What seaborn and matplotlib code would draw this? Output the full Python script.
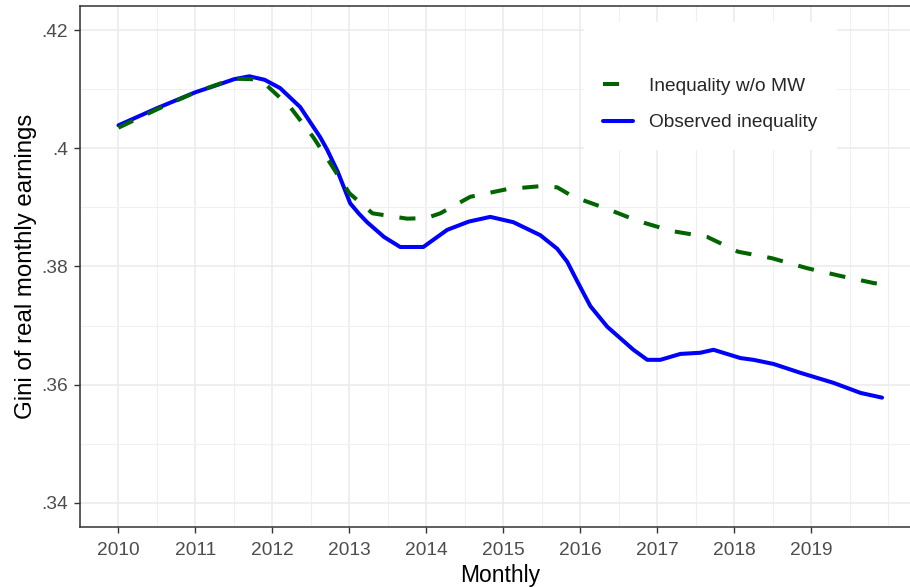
import pandas as pd
import numpy as np
import matplotlib
matplotlib.use("Agg")
import matplotlib.pyplot as plt
import seaborn as sns

sns.set_style("white")
plt.rcParams['font.family'] = ['Liberation Sans', 'DejaVu Sans']
plt.rcParams['axes.unicode_minus'] = False

# observed inequality (blue, solid)
obs_x = [2010.0, 2010.5, 2011.0, 2011.3, 2011.5, 2011.7, 2011.9, 2012.1, 2012.36, 2012.62,
         2012.71, 2012.85, 2013.01, 2013.12, 2013.23, 2013.45, 2013.66, 2013.96, 2014.27,
         2014.55, 2014.83, 2015.13, 2015.48, 2015.7, 2015.83, 2015.96, 2016.13, 2016.35,
         2016.69, 2016.87, 2017.04, 2017.3, 2017.56, 2017.73, 2018.08, 2018.25, 2018.51,
         2018.86, 2019.29, 2019.64, 2019.92]
obs_y = [.4039, .4068, .4095, .4108, .4117, .4122, .4116, .4102, .4070, .4019,
         .3998, .3960, .3907, .3890, .3875, .3850, .3833, .3833, .3862,
         .3876, .3884, .3875, .3853, .3830, .3808, .3775, .3733, .3698,
         .3659, .3642, .3642, .3652, .3654, .3659, .3645, .3642, .3635,
         .3620, .3603, .3586, .3578]

# counterfactual without minimum wage (green, dashed)
nomw_x = [2010.0, 2010.5, 2011.0, 2011.5, 2011.75, 2011.88, 2012.23, 2012.53, 2012.75, 2013.0,
          2013.3, 2013.75, 2014.0, 2014.18, 2014.57, 2015.05, 2015.48, 2015.7, 2015.91,
          2016.32, 2016.75, 2017.19, 2017.65, 2018.05, 2018.49, 2018.95, 2019.38, 2019.81,
          2019.92]
nomw_y = [.4035, .4066, .4095, .4118, .4117, .4112, .4070, .4019, .3975, .3924,
          .3890, .3881, .3882, .3890, .3918, .3931, .3936, .3934, .3918,
          .3899, .3877, .3860, .3850, .3825, .3814, .3797, .3784, .3772,
          .3770]

year_ticks = list(range(2010, 2020))
gini_ticks = [.34, .36, .38, .40, .42]
gini_labels = [".34", ".36", ".38", ".4", ".42"]

df_obs = pd.DataFrame({"month": obs_x, "gini": obs_y})
df_nomw = pd.DataFrame({"month": nomw_x, "gini": nomw_y})

fig = plt.figure(figsize=(9.1, 5.87), dpi=100)
W, H = 910, 587
ax = fig.add_axes([80 / W, (H - 527) / H, (920 - 80) / W, (527 - 6) / H])

sns.lineplot(data=df_obs, x="month", y="gini", ax=ax, color="#0000ff", lw=2.9,
             label="Observed inequality", sort=False, estimator=None)
sns.lineplot(data=df_nomw, x="month", y="gini", ax=ax, color="#006400", lw=2.9,
             linestyle=(0, (4, 4)), label="Inequality w/o MW", sort=False, estimator=None)

ax.set_xlim(2009.504, 2020.413)
ax.set_ylim(.3359, .4241)
ax.set_xticks(year_ticks)
ax.set_xticklabels([str(y) for y in year_ticks])
ax.set_xticks(list(np.arange(2009.5, 2020.5, 1.0)) + [2020], minor=True)
ax.set_yticks(gini_ticks)
ax.set_yticklabels(gini_labels)
ax.set_yticks([.35, .37, .39, .41], minor=True)

ax.grid(which="major", color="#ebebeb", lw=1.1)
ax.grid(which="minor", color="#f0f0f0", lw=0.8)
ax.set_axisbelow(True)
for s in ax.spines.values():
    s.set_color("#333333")
    s.set_linewidth(1.1)

ax.tick_params(which="major", length=4.5, width=1.0, color="#333333",
               labelsize=13.8, labelcolor="#4d4d4d", pad=4, left=True, bottom=True)
ax.tick_params(axis="x", which="major", pad=6)
ax.tick_params(which="minor", length=0)

ax.set_xlabel("Monthly", fontsize=16.5, color="black", labelpad=4)
ax.set_ylabel("Gini of real monthly earnings", fontsize=17.3, color="black", labelpad=3)

handles, labels = ax.get_legend_handles_labels()
leg = ax.legend([handles[1], handles[0]], [labels[1], labels[0]],
                loc="upper left", bbox_to_anchor=((584 - 80) / 840, (527 - 22) / 521),
                fontsize=13.8, title=" ", title_fontsize=13.8, frameon=True,
                framealpha=1, facecolor="white", edgecolor="none", fancybox=False,
                handlelength=1.55, handletextpad=0.85, labelspacing=1.0, borderpad=1.0,
                borderaxespad=0)

plt.savefig("out.png", dpi=100)
plt.close()
